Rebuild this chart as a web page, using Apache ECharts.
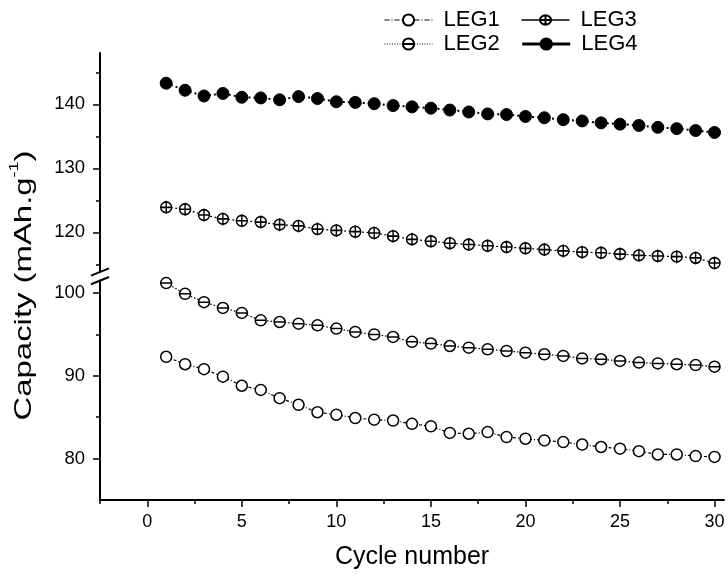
<!DOCTYPE html>
<html>
<head>
<meta charset="utf-8">
<script src="https://cdn.jsdelivr.net/npm/echarts@6/dist/echarts.min.js"></script>
<style>html,body{margin:0;padding:0;background:#fff}#c{width:728px;height:574px}</style>
</head>
<body>
<div id="c"></div>
<script>
const cycles = [1,2,3,4,5,6,7,8,9,10,11,12,13,14,15,16,17,18,19,20,21,22,23,24,25,26,27,28,29,30];
const leg1 = [92.3,91.4,90.8,89.9,88.8,88.3,87.3,86.5,85.6,85.3,84.9,84.7,84.6,84.2,83.9,83.1,83.0,83.2,82.6,82.4,82.2,82.0,81.7,81.4,81.2,80.9,80.5,80.5,80.3,80.2];
const leg2 = [101.2,99.9,98.9,98.2,97.6,96.7,96.5,96.3,96.1,95.7,95.3,95.0,94.7,94.1,93.9,93.6,93.4,93.2,93.0,92.8,92.6,92.4,92.1,92.0,91.8,91.6,91.5,91.4,91.3,91.1];
const leg3 = [123.9,123.6,122.7,122.1,121.8,121.6,121.2,121.0,120.5,120.3,120.1,119.9,119.4,118.9,118.6,118.3,118.1,117.9,117.7,117.5,117.3,117.1,116.9,116.8,116.6,116.4,116.3,116.2,116.0,115.2];
const leg4 = [143.3,142.2,141.3,141.7,141.1,141.0,140.7,141.2,140.9,140.4,140.3,140.1,139.8,139.6,139.4,139.1,138.8,138.5,138.4,138.1,137.9,137.6,137.4,137.1,136.9,136.7,136.4,136.2,135.9,135.6];
const xTicks = [0,5,10,15,20,25,30];
const xMinor = [-2.5,2.5,7.5,12.5,17.5,22.5,27.5];
const yTicksLow = [80,90,100];
const yMinorLow = [85,95];
const yTicksHigh = [120,130,140];
const yMinorHigh = [115,125,135,145];
const names = ['LEG1','LEG2','LEG3','LEG4'];

const FONT = 'Liberation Sans, Arial, sans-serif';
const pair = (ys) => cycles.map((c, i) => [c, ys[i]]);
const thetaPath = 'path://M0,10 A10,10 0 1,1 20,10 A10,10 0 1,1 0,10 Z M0,10 L20,10';
const plusPath = 'path://M0,12 A10,10 0 1,1 20,12 A10,10 0 1,1 0,12 Z M0,12 L20,12 M10,0 L10,24';

const chart = echarts.init(document.getElementById('c'), null, {renderer: 'canvas'});
const axisLineStyle = {color: '#000', width: 2};
const xBase = {type: 'value', min: -2.5, max: 30.5, splitLine: {show: false}};

const option = {
  animation: false,
  backgroundColor: '#fff',
  grid: [
    {left: 100, right: 4, top: 280.6, bottom: 74},
    {left: 100, right: 4, top: 53.1, height: 218.9}
  ],
  legend: [
    {data: [{name: names[0], lineStyle: {type: [5, 2, 1, 2], width: 1}}, {name: names[2], lineStyle: {type: 'solid', width: 1.5}}],
     left: 379, top: 4, itemWidth: 48, itemHeight: 14, itemGap: 21,
     textStyle: {fontFamily: FONT, fontSize: 22, color: '#000', padding: [0, 0, 0, 6]}},
    {data: [{name: names[1], lineStyle: {type: [1, 1.5], width: 1}}, {name: names[3], lineStyle: {type: 'solid', width: 3}}],
     left: 379, top: 28, itemWidth: 48, itemHeight: 14, itemGap: 21,
     textStyle: {fontFamily: FONT, fontSize: 22, color: '#000', padding: [0, 0, 0, 6]}}
  ],
  xAxis: [
    Object.assign({}, xBase, {gridIndex: 0, position: 'bottom',
      axisLine: {show: true, onZero: false, lineStyle: axisLineStyle},
      axisTick: {show: true, inside: false, length: 7, lineStyle: {color: '#000', width: 1.5}, customValues: xTicks},
      axisLabel: {fontFamily: FONT, fontSize: 18, color: '#000', margin: 13, customValues: xTicks},
      name: 'Cycle number', nameLocation: 'middle', nameGap: 45,
      nameTextStyle: {fontFamily: FONT, fontSize: 25, color: '#000'}}),
    Object.assign({}, xBase, {gridIndex: 1, show: false}),
    Object.assign({}, xBase, {gridIndex: 0, position: 'bottom',
      axisLine: {show: false, onZero: false},
      axisTick: {show: true, inside: false, length: 4, lineStyle: {color: '#000', width: 1.5}, customValues: xMinor},
      axisLabel: {show: false}})
  ],
  yAxis: [
    {type: 'value', gridIndex: 0, position: 'left', min: 75, max: 101.5, splitLine: {show: false},
     axisLine: {show: true, onZero: false, lineStyle: axisLineStyle},
     axisTick: {show: true, length: 7, lineStyle: {color: '#000', width: 1.5}, customValues: yTicksLow},
     axisLabel: {fontFamily: FONT, fontSize: 18.5, color: '#000', margin: 15, customValues: yTicksLow}},
    {type: 'value', gridIndex: 1, position: 'left', min: 113.8, max: 148, splitLine: {show: false},
     axisLine: {show: true, onZero: false, lineStyle: axisLineStyle},
     axisTick: {show: true, length: 7, lineStyle: {color: '#000', width: 1.5}, customValues: yTicksHigh},
     axisLabel: {fontFamily: FONT, fontSize: 18.5, color: '#000', margin: 15, customValues: yTicksHigh}},
    {type: 'value', gridIndex: 0, position: 'left', min: 75, max: 101.5, splitLine: {show: false},
     axisLine: {show: false, onZero: false},
     axisTick: {show: true, length: 4, lineStyle: {color: '#000', width: 1.5}, customValues: yMinorLow},
     axisLabel: {show: false}},
    {type: 'value', gridIndex: 1, position: 'left', min: 113.8, max: 148, splitLine: {show: false},
     axisLine: {show: false, onZero: false},
     axisTick: {show: true, length: 4, lineStyle: {color: '#000', width: 1.5}, customValues: yMinorHigh},
     axisLabel: {show: false}}
  ],
  series: [
    {name: names[0], type: 'line', xAxisIndex: 0, yAxisIndex: 0, data: pair(leg1),
     symbol: 'circle', symbolSize: 11,
     itemStyle: {color: '#fff', borderColor: '#000', borderWidth: 1.5},
     lineStyle: {color: '#000', width: 1.2, type: [3, 2, 1, 2]}},
    {name: names[1], type: 'line', xAxisIndex: 0, yAxisIndex: 0, data: pair(leg2),
     symbol: thetaPath, symbolSize: 11,
     itemStyle: {color: '#fff', borderColor: '#000', borderWidth: 1.5},
     lineStyle: {color: '#000', width: 1.2, type: [1.5, 2]}},
    {name: names[2], type: 'line', xAxisIndex: 1, yAxisIndex: 1, data: pair(leg3),
     symbol: plusPath, symbolSize: [11, 13],
     itemStyle: {color: '#fff', borderColor: '#000', borderWidth: 1.5},
     lineStyle: {color: '#000', width: 1.2, type: [2, 2.5]}},
    {name: names[3], type: 'line', xAxisIndex: 1, yAxisIndex: 1, data: pair(leg4),
     symbol: 'circle', symbolSize: 12,
     itemStyle: {color: '#000', borderColor: '#000', borderWidth: 1},
     lineStyle: {color: '#000', width: 2, type: [2, 3]}}
  ]
};
chart.setOption(option);

// axis break marks and rotated y title
const yTop = chart.convertToPixel({yAxisIndex: 1}, 113.8);
const yBot = chart.convertToPixel({yAxisIndex: 0}, 101.5);
const xAx = chart.convertToPixel({xAxisIndex: 0}, -2.5);
const slash = (y) => ({type: 'line', shape: {x1: xAx - 9, y1: y + 3.6, x2: xAx + 9, y2: y - 3.6},
  style: {stroke: '#000', lineWidth: 2}});
const yMid = (chart.convertToPixel({yAxisIndex: 1}, 148) + chart.convertToPixel({yAxisIndex: 0}, 75)) / 2;
chart.setOption({
  graphic: [
    slash(yTop), slash(yBot),
    {type: 'text', x: 22, y: yMid + 9, rotation: Math.PI / 2, scaleX: 1.37,
     style: {text: '{a|Capacity (mAh.g}{s|-1}{a|)}', align: 'center', verticalAlign: 'middle',
       rich: {a: {fontFamily: FONT, fontSize: 24, color: '#000', lineHeight: 28, verticalAlign: 'bottom'},
              s: {fontFamily: FONT, fontSize: 13, color: '#000', lineHeight: 28, verticalAlign: 'top'}}}}
  ]
});
</script>
</body>
</html>
